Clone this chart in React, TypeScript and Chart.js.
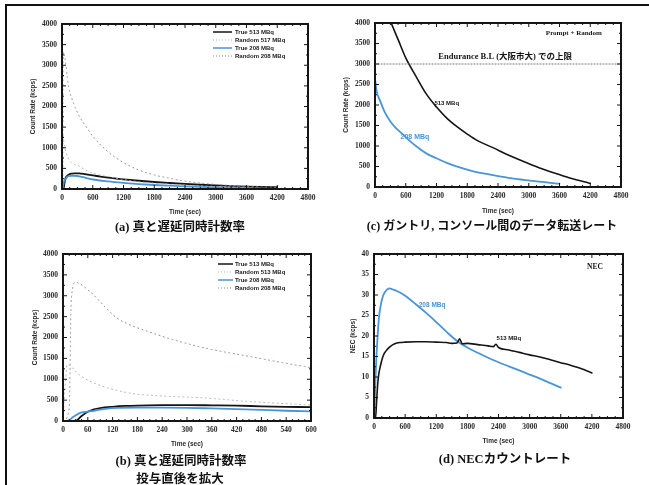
import React, { useEffect, useRef } from "react";
import Chart from "chart.js/auto";

// ---------------- data ----------------
// (a)/(b) true & random coincidence rates (kcps) vs time (sec)
const true513Time = [0, 30, 45, 60, 75, 90, 120, 150, 180, 240, 300, 360, 420, 480, 540, 600, 750, 900, 1200, 1500, 1800, 2100, 2400, 2700, 3000, 3300, 3600, 3900, 4200];
const true513Rate = [0, 0, 120, 220, 280, 310, 340, 360, 370, 378, 380, 375, 368, 352, 340, 330, 300, 275, 235, 200, 170, 145, 122, 103, 86, 72, 60, 50, 42];

const random517Time = [0, 15, 20, 30, 65, 105, 130, 210, 330, 460, 600, 900, 1200, 1500, 1800, 2100, 2400, 2700, 3000, 3300, 3600, 3900, 4200];
const random517Rate = [0, 300, 2900, 3320, 3100, 2700, 2470, 2130, 1780, 1530, 1280, 900, 640, 460, 340, 260, 190, 145, 110, 85, 65, 50, 40];

const true208Time = [0, 10, 25, 40, 60, 75, 90, 120, 180, 240, 300, 360, 420, 480, 540, 600, 900, 1200, 1500, 1800, 2100, 2400, 2700, 3000, 3300, 3600];
const true208Rate = [0, 0, 100, 190, 225, 245, 275, 310, 320, 320, 315, 300, 285, 265, 245, 230, 185, 150, 120, 97, 80, 65, 53, 43, 35, 28];

const random208Time = [0, 5, 10, 40, 75, 155, 235, 330, 460, 590, 900, 1200, 1500, 1800, 2400, 3000, 3600];
const random208Rate = [0, 800, 1350, 1100, 910, 680, 600, 560, 460, 390, 300, 230, 175, 140, 90, 60, 40];

// (c) prompt + random data transfer rate (kcps)
const prompt513Time = [0, 150, 300, 450, 600, 800, 1000, 1200, 1400, 1600, 1800, 2000, 2300, 2600, 2900, 3200, 3500, 3800, 4100, 4200];
const prompt513Rate = [5000, 4550, 4050, 3600, 3150, 2700, 2270, 1950, 1680, 1470, 1290, 1130, 960, 780, 620, 470, 340, 220, 120, 90];

const prompt208Time = [0, 30, 100, 200, 300, 400, 530, 700, 850, 1000, 1200, 1400, 1620, 1900, 2280, 2600, 2900, 3200, 3600];
const prompt208Rate = [2650, 2350, 2100, 1800, 1600, 1450, 1300, 1100, 950, 820, 700, 590, 490, 390, 295, 225, 175, 130, 80];

const enduranceLimitTime = [0, 4800];
const enduranceLimitRate = [3000, 3000];

// (d) NEC rate (kcps)
const nec208Time = [0, 20, 40, 60, 80, 100, 130, 160, 200, 250, 300, 350, 400, 500, 600, 800, 1000, 1200, 1400, 1600, 1800, 2000, 2200, 2400, 2600, 2800, 3000, 3200, 3400, 3600];
const nec208Rate = [0, 6, 13, 18, 22, 25, 27.5, 29.2, 30.5, 31.3, 31.6, 31.4, 31.2, 30.6, 29.8, 27.8, 25.7, 23.4, 21, 18.8, 17.2, 15.9, 14.7, 13.6, 12.6, 11.6, 10.6, 9.6, 8.5, 7.4];

const nec513Time = [0, 30, 50, 70, 90, 120, 160, 200, 260, 330, 400, 500, 600, 800, 1000, 1200, 1400, 1500, 1600, 1650, 1700, 1800, 2000, 2200, 2300, 2350, 2400, 2600, 2800, 3000, 3200, 3400, 3600, 3800, 4000, 4200];
const nec513Rate = [0, 0, 4, 8, 10.5, 12.5, 14.5, 15.8, 16.8, 17.6, 18.1, 18.4, 18.5, 18.6, 18.6, 18.5, 18.4, 18.2, 18.3, 19.3, 18.1, 18.2, 17.9, 17.6, 17.4, 18.0, 17.2, 16.6, 16.0, 15.4, 14.9, 14.2, 13.5, 12.8, 12.0, 11.0];

const legendLabelsA = ["True 513 MBq", "Random 517 MBq", "True 208 MBq", "Random 208 MBq"];
const legendLabelsB = ["True 513 MBq", "Random 513 MBq", "True 208 MBq", "Random 208 MBq"];

const captionA = "(a) 真と遅延同時計数率";
const captionB1 = "(b) 真と遅延同時計数率";
const captionB2 = "投与直後を拡大";
const captionC = "(c) ガントリ, コンソール間のデータ転送レート";
const captionD = "(d) NECカウントレート";

// ---------------- styles ----------------
const BLACK = "#151515";
const BLUE = "#4a95d6";
const RAND_HI = "#9a8a92";
const RAND_LO = "#b3adbb";
const TICK_FONT = { family: '"Liberation Serif", serif', size: 7.5, weight: "bold" as const };
const TITLE_FONT = { family: '"Liberation Sans", sans-serif', size: 6.5, weight: "bold" as const };

function pts(t: number[], v: number[]) {
  return t.map((x, i) => ({ x, y: v[i] }));
}

function line(label: string, t: number[], v: number[], color: string, width: number, dash: number[] = []) {
  return {
    label,
    data: pts(t, v),
    borderColor: color,
    backgroundColor: color,
    borderWidth: width,
    borderDash: dash,
    borderCapStyle: "round",
    pointRadius: 0,
    fill: false,
    cubicInterpolationMode: "monotone",
  };
}

type Txt = { x: number; y: number; text: string; color: string; font: string };
type LegItem = { text: string; color: string; dash: number[]; width: number };
type Leg = { items: LegItem[]; lineFrom: number; lineTo: number; textAt: number; rows: number[] };

function framePlugin(xMinor: number, yMinor: number) {
  return {
    id: "frameTicks",
    afterDatasetsDraw(chart: any) {
      const { ctx, chartArea: a, scales } = chart;
      const xs = scales.x;
      const ys = scales.y;
      ctx.save();
      ctx.strokeStyle = BLACK;
      ctx.lineWidth = 1;
      const xStep = xs.options.ticks.stepSize / xMinor;
      for (let i = 0; xs.min + i * xStep <= xs.max + 1e-6; i++) {
        const px = xs.getPixelForValue(xs.min + i * xStep);
        const len = i % xMinor === 0 ? 4 : 2;
        ctx.beginPath();
        ctx.moveTo(px, a.bottom);
        ctx.lineTo(px, a.bottom - len);
        ctx.moveTo(px, a.top);
        ctx.lineTo(px, a.top + len);
        ctx.stroke();
      }
      const yStep = ys.options.ticks.stepSize / yMinor;
      for (let i = 0; ys.min + i * yStep <= ys.max + 1e-6; i++) {
        const py = ys.getPixelForValue(ys.min + i * yStep);
        const len = i % yMinor === 0 ? 4 : 2;
        ctx.beginPath();
        ctx.moveTo(a.left, py);
        ctx.lineTo(a.left + len, py);
        ctx.moveTo(a.right, py);
        ctx.lineTo(a.right - len, py);
        ctx.stroke();
      }
      ctx.lineWidth = 2;
      ctx.strokeRect(a.left, a.top, a.right - a.left, a.bottom - a.top);
      ctx.restore();
    },
  };
}

function textPlugin(texts: Txt[]) {
  return {
    id: "inlineTexts",
    afterDatasetsDraw(chart: any) {
      const { ctx, scales } = chart;
      ctx.save();
      ctx.textAlign = "center";
      ctx.textBaseline = "middle";
      for (const t of texts) {
        ctx.fillStyle = t.color;
        ctx.font = t.font;
        ctx.fillText(t.text, scales.x.getPixelForValue(t.x), scales.y.getPixelForValue(t.y));
      }
      ctx.restore();
    },
  };
}

function legendPlugin(leg: Leg) {
  return {
    id: "inlineLegend",
    afterDatasetsDraw(chart: any) {
      const { ctx, chartArea: a } = chart;
      ctx.save();
      ctx.textAlign = "left";
      ctx.textBaseline = "middle";
      ctx.font = 'bold 6px "Liberation Sans", sans-serif';
      leg.items.forEach((it, i) => {
        const y = a.top + leg.rows[i];
        ctx.strokeStyle = it.color;
        ctx.lineWidth = it.width;
        ctx.setLineDash(it.dash);
        ctx.beginPath();
        ctx.moveTo(a.right - leg.lineFrom, y);
        ctx.lineTo(a.right - leg.lineTo, y);
        ctx.stroke();
        ctx.setLineDash([]);
        ctx.fillStyle = "#222";
        ctx.fillText(it.text, a.right - leg.textAt, y);
      });
      ctx.restore();
    },
  };
}

type Spec = {
  w: number;
  h: number;
  area: { l: number; r: number; t: number; b: number };
  xMax: number;
  xStep: number;
  xMinor: number;
  yMax: number;
  yStep: number;
  yMinor: number;
  yTitle: string;
  yTitleX: number;
  xTitleY: number;
  datasets: any[];
  texts?: Txt[];
  legend?: Leg;
};

function buildConfig(s: Spec): any {
  const half = (TITLE_FONT.size * 1.2) / 2;
  const plugins: any[] = [framePlugin(s.xMinor, s.yMinor)];
  if (s.texts) plugins.push(textPlugin(s.texts));
  if (s.legend) plugins.push(legendPlugin(s.legend));
  return {
    type: "line",
    data: { datasets: s.datasets },
    plugins,
    options: {
      animation: false,
      responsive: false,
      devicePixelRatio: 1,
      layout: { padding: { left: 0, top: s.area.t, right: s.w - s.area.r, bottom: 0 } },
      plugins: { legend: { display: false }, tooltip: { enabled: false } },
      scales: {
        x: {
          type: "linear",
          min: 0,
          max: s.xMax,
          grid: { display: false, drawTicks: false },
          border: { display: false },
          ticks: {
            stepSize: s.xStep,
            padding: 5,
            maxRotation: 0,
            autoSkip: false,
            color: "#2a2a2a",
            font: TICK_FONT,
            callback: (v: any) => String(v),
          },
          title: {
            display: true,
            text: "Time (sec)",
            color: "#2a2a2a",
            font: TITLE_FONT,
            padding: { top: 0, bottom: s.h - s.xTitleY - half },
          },
          afterFit: (sc: any) => {
            sc.height = s.h - s.area.b;
          },
        },
        y: {
          type: "linear",
          min: 0,
          max: s.yMax,
          grid: { display: false, drawTicks: false },
          border: { display: false },
          ticks: {
            stepSize: s.yStep,
            padding: 5,
            color: "#2a2a2a",
            font: TICK_FONT,
            callback: (v: any) => String(v),
          },
          title: {
            display: true,
            text: s.yTitle,
            color: "#2a2a2a",
            font: TITLE_FONT,
            padding: { top: s.yTitleX - half, bottom: 0 },
          },
          afterFit: (sc: any) => {
            sc.width = s.area.l;
          },
        },
      },
    },
  };
}

function ChartBox({ left, top, spec }: { left: number; top: number; spec: Spec }) {
  const ref = useRef<HTMLCanvasElement>(null);
  useEffect(() => {
    const chart = new Chart(ref.current as HTMLCanvasElement, buildConfig(spec));
    return () => chart.destroy();
  }, []);
  return (
    <canvas
      ref={ref}
      width={spec.w}
      height={spec.h}
      style={{ position: "absolute", left, top, width: spec.w, height: spec.h }}
    />
  );
}

const legItems = (labels: string[]): LegItem[] => [
  { text: labels[0], color: BLACK, dash: [], width: 1.5 },
  { text: labels[1], color: RAND_LO, dash: [1, 2], width: 1 },
  { text: labels[2], color: BLUE, dash: [], width: 1.5 },
  { text: labels[3], color: RAND_HI, dash: [1, 2], width: 1 },
];

const rateDatasets = () => [
  line(legendLabelsA[1], random517Time, random517Rate, RAND_HI, 1, [1, 3.5]),
  line(legendLabelsA[3], random208Time, random208Rate, RAND_LO, 1, [1, 3.5]),
  line(legendLabelsA[2], true208Time, true208Rate, BLUE, 1.8),
  line(legendLabelsA[0], true513Time, true513Rate, BLACK, 1.8),
];

const specA: Spec = {
  w: 325, h: 240,
  area: { l: 62, r: 308, t: 24, b: 189 },
  xMax: 4800, xStep: 600, xMinor: 4,
  yMax: 4000, yStep: 500, yMinor: 2,
  yTitle: "Count Rate (kcps)", yTitleX: 33, xTitleY: 212,
  datasets: rateDatasets(),
  legend: { items: legItems(legendLabelsA), lineFrom: 95, lineTo: 76, textAt: 73, rows: [8, 16, 24, 32] },
};

const specB: Spec = {
  w: 325, h: 215,
  area: { l: 63, r: 311, t: 14, b: 181 },
  xMax: 600, xStep: 60, xMinor: 4,
  yMax: 4000, yStep: 500, yMinor: 2,
  yTitle: "Count Rate (kcps)", yTitleX: 35, xTitleY: 204,
  datasets: rateDatasets(),
  legend: { items: legItems(legendLabelsB), lineFrom: 93, lineTo: 78, textAt: 76, rows: [10, 18, 26, 34] },
};

const specC: Spec = {
  w: 324, h: 240,
  area: { l: 50, r: 296, t: 23, b: 187 },
  xMax: 4800, xStep: 600, xMinor: 4,
  yMax: 4000, yStep: 500, yMinor: 2,
  yTitle: "Count Rate (kcps)", yTitleX: 21, xTitleY: 211,
  datasets: [
    line("Endurance limit", enduranceLimitTime, enduranceLimitRate, "#666", 1, [1, 2]),
    line("208 MBq", prompt208Time, prompt208Rate, BLUE, 1.8),
    line("513 MBq", prompt513Time, prompt513Rate, BLACK, 1.6),
  ],
  texts: [
    { x: 3880, y: 3760, text: "Prompt + Random", color: BLACK, font: 'bold 7px "Liberation Serif", serif' },
    { x: 2540, y: 3170, text: "Endurance B.L (大阪市大) での上限", color: BLACK, font: 'bold 8.5px "Liberation Serif", "Noto Sans CJK JP", serif' },
    { x: 1400, y: 2050, text: "513 MBq", color: BLACK, font: 'bold 6px "Liberation Sans", sans-serif' },
    { x: 780, y: 1220, text: "208 MBq", color: BLUE, font: 'bold 7px "Liberation Sans", sans-serif' },
  ],
};

const specD: Spec = {
  w: 324, h: 215,
  area: { l: 49, r: 298, t: 14, b: 178 },
  xMax: 4800, xStep: 600, xMinor: 4,
  yMax: 40, yStep: 5, yMinor: 2,
  yTitle: "NEC (kcps)", yTitleX: 28, xTitleY: 201,
  datasets: [
    line("513 MBq", nec513Time, nec513Rate, BLACK, 1.6),
    line("208 MBq", nec208Time, nec208Rate, BLUE, 1.8),
  ],
  texts: [
    { x: 1120, y: 27.6, text: "208 MBq", color: BLUE, font: 'bold 6.5px "Liberation Sans", sans-serif' },
    { x: 2600, y: 19.4, text: "513 MBq", color: BLACK, font: 'bold 6px "Liberation Sans", sans-serif' },
    { x: 4260, y: 36.8, text: "NEC", color: BLACK, font: 'bold 7.5px "Liberation Serif", serif' },
  ],
};

const capStyle = (cx: number, y: number, size = 12.5): React.CSSProperties => ({
  position: "absolute",
  left: cx - 170,
  width: 340,
  top: y - 9,
  height: 18,
  lineHeight: "18px",
  textAlign: "center",
  fontFamily: '"Liberation Serif", "Noto Sans CJK JP", serif',
  fontWeight: 700,
  fontSize: size,
  color: "#111",
  whiteSpace: "nowrap",
});

export default function App() {
  return (
    <div
      style={{
        position: "fixed",
        left: 0,
        top: 0,
        width: 649,
        height: 485,
        overflow: "hidden",
        background: "#fff",
      }}
    >
      <div
        style={{
          position: "absolute",
          left: 5,
          top: 4,
          width: 700,
          height: 600,
          borderTop: "2px solid #111",
          borderLeft: "2px solid #111",
        }}
      />
      <ChartBox left={0} top={0} spec={specA} />
      <ChartBox left={325} top={0} spec={specC} />
      <ChartBox left={0} top={240} spec={specB} />
      <ChartBox left={325} top={240} spec={specD} />
      <div style={capStyle(180, 227)}>{captionA}</div>
      <div style={capStyle(492, 226, 12)}>{captionC}</div>
      <div style={capStyle(181, 461)}>{captionB1}</div>
      <div style={capStyle(180, 479)}>{captionB2}</div>
      <div style={capStyle(505, 459)}>{captionD}</div>
    </div>
  );
}
